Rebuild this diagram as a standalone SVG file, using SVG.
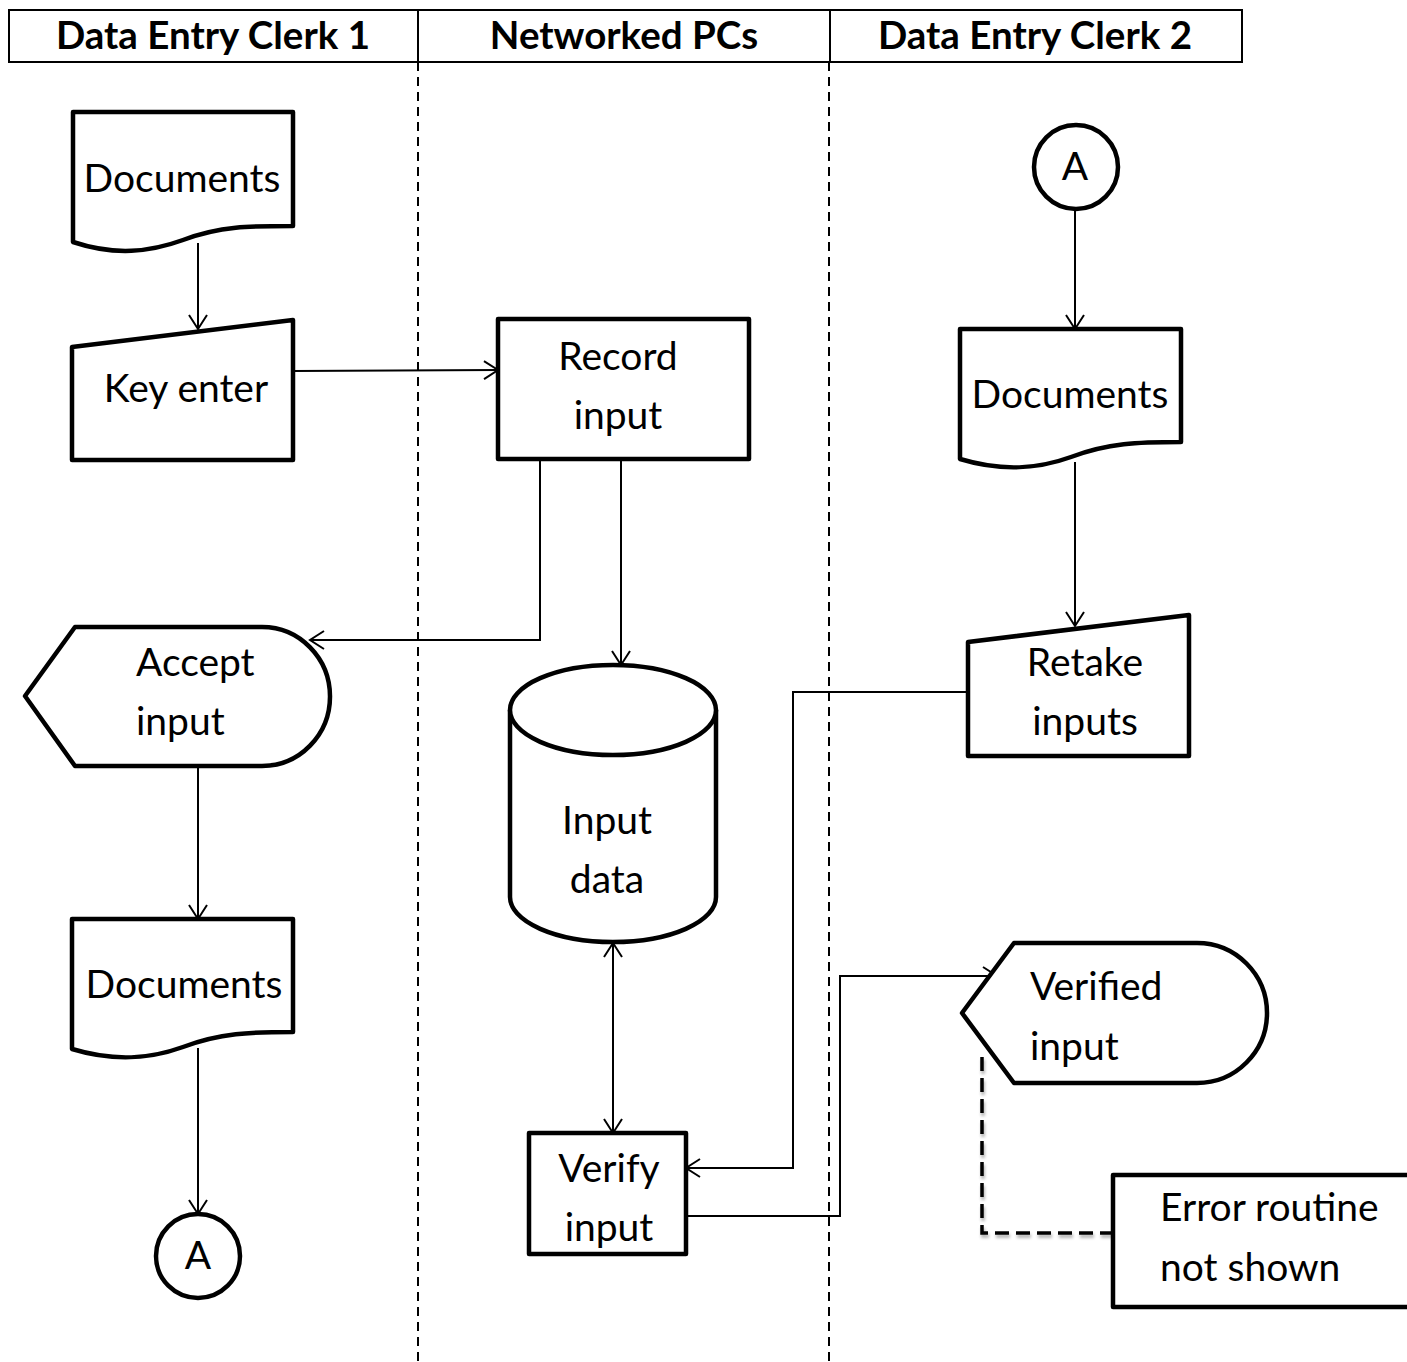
<svg xmlns="http://www.w3.org/2000/svg" width="1407" height="1362" viewBox="0 0 1407 1362">
<style>
.n{fill:#fff;stroke:#000;stroke-width:4.5;stroke-linejoin:round}
.t{font-family:Lato,"Liberation Sans",sans-serif;font-size:39px;fill:#000}
.h{font-family:Lato,"Liberation Sans",sans-serif;font-size:38.5px;font-weight:bold;fill:#000;text-anchor:middle}
.c{fill:none;stroke:#000;stroke-width:2}
.lane{stroke:#000;stroke-width:2;stroke-dasharray:9 6}
</style>
<defs>
<marker id="ar" markerWidth="20" markerHeight="20" refX="15" refY="10" orient="auto" markerUnits="userSpaceOnUse">
<path d="M1,1 L15,10 L1,19" fill="none" stroke="#000" stroke-width="2"/>
</marker>
<marker id="as" markerWidth="20" markerHeight="20" refX="15" refY="10" orient="auto-start-reverse" markerUnits="userSpaceOnUse">
<path d="M1,1 L15,10 L1,19" fill="none" stroke="#000" stroke-width="2"/>
</marker>
<filter id="sh" x="-20%" y="-20%" width="140%" height="140%"><feGaussianBlur stdDeviation="1.5"/></filter>
</defs>
<g id="header">
<rect x="9" y="10" width="1233" height="52" fill="#fff" stroke="#000" stroke-width="2"/>
<line x1="418" y1="10" x2="418" y2="62" stroke="#000" stroke-width="2"/>
<line x1="830" y1="10" x2="830" y2="62" stroke="#000" stroke-width="2"/>
<text class="h" x="213" y="49">Data Entry Clerk 1</text>
<text class="h" x="624" y="49">Networked PCs</text>
<text class="h" x="1035" y="49">Data Entry Clerk 2</text>
</g>
<g id="lanes">
<line class="lane" x1="418" y1="62" x2="418" y2="1362"/>
<line class="lane" x1="829" y1="62" x2="829" y2="1362"/>
</g>
<g id="connectors">
<path class="c" d="M198,243 V329" marker-end="url(#ar)"/>
<path class="c" d="M293,371 L498,370" marker-end="url(#ar)"/>
<path class="c" d="M540,459 V640 H310" marker-end="url(#ar)"/>
<path class="c" d="M621,459 V665" marker-end="url(#ar)"/>
<path class="c" d="M198,766 V919" marker-end="url(#ar)"/>
<path class="c" d="M198,1048 V1214" marker-end="url(#ar)"/>
<path class="c" d="M1075,209 V329" marker-end="url(#ar)"/>
<path class="c" d="M1075,462 V626" marker-end="url(#ar)"/>
<path class="c" d="M968,692 H793 V1168 H686" marker-end="url(#ar)"/>
<path class="c" d="M613,943 V1133" marker-start="url(#as)" marker-end="url(#ar)"/>
<path class="c" d="M686,1216 H840 V976 H997" marker-end="url(#ar)"/>
<path d="M982,1057 V1233 H1112" fill="none" stroke="#888" stroke-width="4" stroke-dasharray="14 7" transform="translate(1,3)" filter="url(#sh)" opacity="0.6"/>
<path d="M982,1057 V1233 H1112" fill="none" stroke="#000" stroke-width="3.5" stroke-dasharray="14 7"/>
</g>
<g id="documents1">
<path class="n" d="M73,112 H293 V226 C250,226 220,226 183,240 C150,252 115,256 73,242 Z"/>
<text class="t" x="182" y="192" text-anchor="middle">Documents</text>
</g>
<g id="key-enter">
<path class="n" d="M72,347 L293,320 V460 H72 Z"/>
<text class="t" x="186" y="402" text-anchor="middle">Key enter</text>
</g>
<g id="record-input">
<rect class="n" x="498" y="319" width="251" height="140"/>
<text class="t" x="618" y="370" text-anchor="middle">Record</text>
<text class="t" x="618" y="429" text-anchor="middle">input</text>
</g>
<g id="accept-input">
<path class="n" d="M25,696 L75,627 H262 A68,69.5 0 0 1 262,766 H75 Z"/>
<text class="t" x="136" y="676">Accept</text>
<text class="t" x="136" y="735">input</text>
</g>
<g id="input-data">
<path class="n" d="M510,710 A103,45 0 0 1 716,710 V897 A103,45 0 0 1 510,897 Z"/>
<path class="n" fill="none" d="M510,710 A103,45 0 0 0 716,710"/>
<text class="t" x="607" y="834" text-anchor="middle">Input</text>
<text class="t" x="607" y="893" text-anchor="middle">data</text>
</g>
<g id="documents2">
<path class="n" d="M72,919 H293 V1032 C250,1032 220,1033 183,1047 C150,1059 115,1062 72,1049 Z"/>
<text class="t" x="184" y="998" text-anchor="middle">Documents</text>
</g>
<g id="connector-a1">
<circle class="n" cx="198" cy="1256" r="42"/>
<text class="t" x="198" y="1269" text-anchor="middle">A</text>
</g>
<g id="connector-a2">
<circle class="n" cx="1076" cy="167" r="42"/>
<text class="t" x="1075" y="180" text-anchor="middle">A</text>
</g>
<g id="documents3">
<path class="n" d="M960,329 H1181 V442 C1138,442 1108,443 1071,457 C1038,469 1003,472 960,459 Z"/>
<text class="t" x="1070" y="408" text-anchor="middle">Documents</text>
</g>
<g id="retake-inputs">
<path class="n" d="M968,642 L1189,615 V756 H968 Z"/>
<text class="t" x="1085" y="676" text-anchor="middle">Retake</text>
<text class="t" x="1085" y="735" text-anchor="middle">inputs</text>
</g>
<g id="verify-input">
<rect class="n" x="529" y="1133" width="157" height="121"/>
<text class="t" x="609" y="1182" text-anchor="middle">Verify</text>
<text class="t" x="609" y="1241" text-anchor="middle">input</text>
</g>
<g id="verified-input">
<path class="n" d="M962,1013 L1014,943 H1197 A70,70 0 0 1 1197,1083 H1014 Z"/>
<text class="t" x="1030" y="1000">Verified</text>
<text class="t" x="1030" y="1060">input</text>
</g>
<g id="error-routine">
<path class="n" d="M1409,1175 H1113 V1307 H1409"/>
<text class="t" x="1160" y="1221">Error routine</text>
<text class="t" x="1160" y="1281">not shown</text>
</g>
</svg>
